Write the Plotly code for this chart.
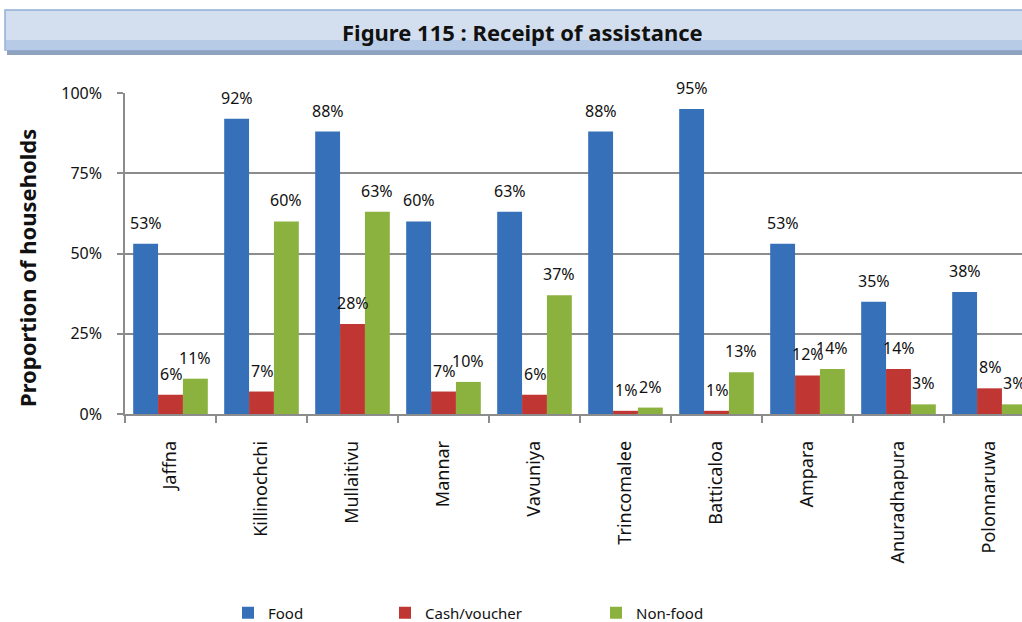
import plotly.graph_objects as go

categories = ["Jaffna", "Killinochchi", "Mullaitivu", "Mannar", "Vavuniya",
              "Trincomalee", "Batticaloa", "Ampara", "Anuradhapura", "Polonnaruwa"]
food = [53, 92, 88, 60, 63, 88, 95, 53, 35, 38]
cash = [6, 7, 28, 7, 6, 1, 1, 12, 14, 8]
nonfood = [11, 60, 63, 10, 37, 2, 13, 14, 3, 3]
series_names = ["Food", "Cash/voucher", "Non-food"]
y_ticks = [0, 25, 50, 75, 100]

colors = ["#3570b9", "#bf3633", "#8bb13f"]
FONT = "Noto Sans"
x_idx = list(range(len(categories)))
bargap = 0.18
bw = (1 - bargap) / 3

L, T, B = 125, 93, 208
PW, PH = 1022 - L, 622 - T - B


def px(xp):
    return (xp - L) / PW


def py(yp):
    return (622 - B - yp) / PH


fig = go.Figure()
legends = ["legend", "legend2", "legend3"]
for k, (name, vals) in enumerate(zip(series_names, [food, cash, nonfood])):
    fig.add_trace(go.Bar(x=x_idx, y=vals, name=name, marker=dict(color=colors[k], line=dict(width=0)),
                         legend=legends[k], hoverinfo="skip"))
    for i, v in enumerate(vals):
        fig.add_annotation(x=i + (k - 1) * bw, y=v, text=f"{v}%", showarrow=False,
                           xref="x", yref="y", yanchor="middle", yshift=21,
                           font=dict(family=FONT, size=16, color="#111"))

# Title banner (shadow + light box)
fig.add_shape(type="rect", xref="paper", yref="paper", x0=px(7), x1=px(1030), y0=py(55), y1=py(14),
              fillcolor="#8fa3bf", line=dict(width=0), layer="above")
fig.add_shape(type="rect", xref="paper", yref="paper", x0=px(5), x1=px(1030), y0=py(50), y1=py(10),
              fillcolor="#d3dfee", line=dict(color="#93afd6", width=1.5), layer="above")
fig.add_shape(type="rect", xref="paper", yref="paper", x0=px(6), x1=px(1030), y0=py(50), y1=py(40),
              fillcolor="#b7cbe6", line=dict(width=0), layer="above")
fig.add_annotation(xref="paper", yref="paper", x=px(522), y=py(32),
                   text="<b>Figure 115 : Receipt of assistance</b>",
                   showarrow=False, font=dict(family=FONT, size=22, color="#111"), yanchor="middle")

# Y-axis title
fig.add_annotation(xref="paper", yref="paper", x=px(27), y=py(268), textangle=-90,
                   text="<b>Proportion of households</b>", showarrow=False,
                   xanchor="center", yanchor="middle", font=dict(family=FONT, size=22, color="#111"))

leg_common = dict(orientation="h", yanchor="middle", xanchor="left", font=dict(size=15),
                  itemwidth=30, bgcolor="rgba(0,0,0,0)", y=py(613))

fig.update_layout(
    width=1022, height=622,
    margin=dict(l=L, r=0, t=T, b=B, autoexpand=False),
    paper_bgcolor="white", plot_bgcolor="white",
    barmode="group", bargap=bargap, bargroupgap=0,
    font=dict(family=FONT, size=15, color="#111"),
    showlegend=True,
    legend=dict(x=px(228), **leg_common),
    legend2=dict(x=px(385), **leg_common),
    legend3=dict(x=px(596), **leg_common),
    xaxis=dict(range=[-0.5, -0.5 + PW / 91], tickmode="array", tickvals=x_idx, ticktext=categories,
               tickangle=-90, ticks="", showgrid=False, showline=True, linecolor="#8c8c8c", linewidth=1.5,
               tickfont=dict(size=18), ticklabelstandoff=18, automargin=False,
               minor=dict(tickmode="array", tickvals=[i - 0.5 for i in range(11)], ticks="outside",
                          ticklen=7, tickcolor="#8c8c8c", tickwidth=1.5, showgrid=False),
               zeroline=False),
    yaxis=dict(range=[0, 100], tickmode="array", tickvals=y_ticks, ticktext=[f"{t}%" for t in y_ticks],
               showgrid=True, gridcolor="#8c8c8c", gridwidth=1.5, showline=True, linecolor="#8c8c8c",
               linewidth=1.5, ticks="outside", ticklen=6, tickcolor="#8c8c8c", tickwidth=1.5,
               tickfont=dict(size=16), ticklabelstandoff=12, zeroline=False, automargin=False),
)

fig.write_html("out.html", config={"displayModeBar": False},
               post_script="document.body.style.margin='0';document.body.style.overflow='hidden';")
